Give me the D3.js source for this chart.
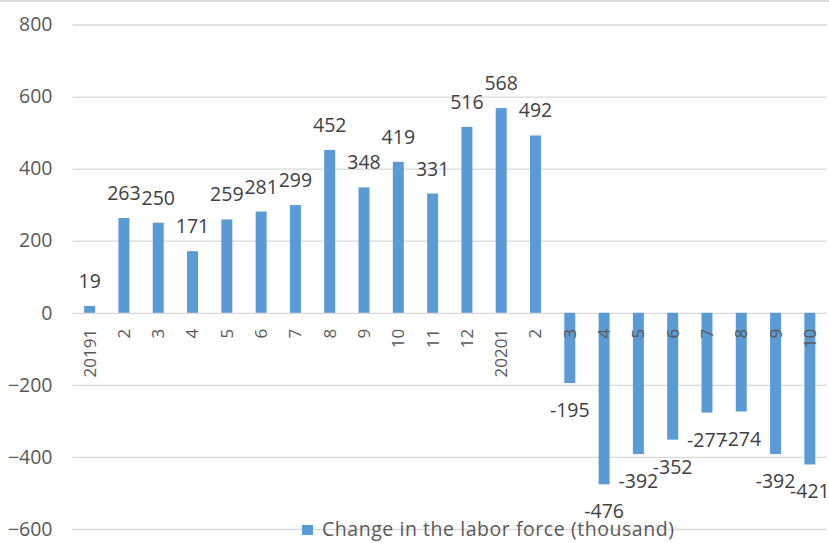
<!DOCTYPE html>
<html>
<head>
<meta charset="utf-8">
<script src="https://cdn.jsdelivr.net/npm/d3@7"></script>
<style>
  body { margin: 0; background: #fff; }
  text { font-family: "Open Sans", "Noto Sans", sans-serif; }
</style>
</head>
<body>
<div id="chart"></div>
<script>
// months, 2019-1 .. 2020-10
var categories = ['20191', '2', '3', '4', '5', '6', '7', '8', '9', '10', '11', '12',
                  '20201', '2', '3', '4', '5', '6', '7', '8', '9', '10'];
// change in the labor force (thousand)
var values = [19, 263, 250, 171, 259, 281, 299, 452, 348, 419, 331, 516,
              568, 492, -195, -476, -392, -352, -277, -274, -392, -421];
var yTicks = [-600, -400, -200, 0, 200, 400, 600, 800];
var seriesName = 'Change in the labor force (thousand)';

function main(){
    var W = 829, H = 543;
    var margin = { top: 24.5, right: 2, bottom: 14, left: 72.5 },
        width  = W - margin.left - margin.right,
        height = H - margin.top - margin.bottom;

    var x = d3.scaleBand()
              .domain(d3.range(categories.length))
              .range([0, width])
              .paddingInner(0.68)
              .paddingOuter(0.34);
    var y = d3.scaleLinear()
              .domain([-600, 800])
              .range([height, 0]);

    var svg = d3.select('#chart').append('svg')
                .attr('width', W)
                .attr('height', H);

    // top border
    svg.append('line')
       .attr('x1', 0).attr('x2', W)
       .attr('y1', 1).attr('y2', 1)
       .attr('stroke', '#dcdcdc')
       .attr('stroke-width', 2);

    var g = svg.append('g')
               .attr('transform', 'translate(' + margin.left + ',' + margin.top + ')');

    // gridlines + y axis
    var yAxis = g.append('g')
       .call(d3.axisLeft(y).tickValues(yTicks).tickSize(-width).tickPadding(20));
    yAxis.select('.domain').remove();
    yAxis.selectAll('.tick line').attr('stroke', '#d9d9d9').attr('stroke-width', 1.3);
    yAxis.selectAll('.tick text')
         .attr('fill', '#595959')
         .style('font-size', '19.5px');

    // bars
    g.selectAll('.bar')
     .data(values)
     .enter().append('rect')
       .attr('class', 'bar')
       .attr('x', (d, i) => x(i))
       .attr('width', x.bandwidth())
       .attr('y', (d) => y(Math.max(0, d)))
       .attr('height', (d) => Math.abs(y(d) - y(0)))
       .attr('fill', '#5b9bd5');

    // value labels
    g.selectAll('.lbl')
     .data(values)
     .enter().append('text')
       .attr('class', 'lbl')
       .attr('x', (d, i) => x(i) + x.bandwidth() / 2)
       .attr('y', (d) => d >= 0 ? y(d) - 18 : y(d) + 34)
       .attr('text-anchor', 'middle')
       .attr('fill', '#404040')
       .style('font-size', '19.5px')
       .text((d) => d);

    // category labels, rotated
    var xAxis = g.append('g')
       .attr('transform', 'translate(0,' + y(0) + ')')
       .call(d3.axisBottom(x).tickFormat((i) => categories[i]).tickSize(0));
    xAxis.select('.domain').remove();
    xAxis.selectAll('.tick text')
         .attr('fill', '#595959')
         .style('font-size', '17px')
         .attr('transform', 'rotate(-90)')
         .attr('text-anchor', 'end')
         .attr('x', -16)
         .attr('y', 0)
         .attr('dy', '0.35em');

    // legend
    var lg = svg.append('g').attr('transform', 'translate(302,525)');
    lg.append('rect')
      .attr('width', 11).attr('height', 10)
      .attr('fill', '#5b9bd5');
    lg.append('text')
      .attr('x', 20).attr('y', 11)
      .attr('fill', '#595959')
      .style('font-size', '19.5px')
      .style('letter-spacing', '0.55px')
      .text(seriesName);
}

main();
</script>
</body>
</html>
